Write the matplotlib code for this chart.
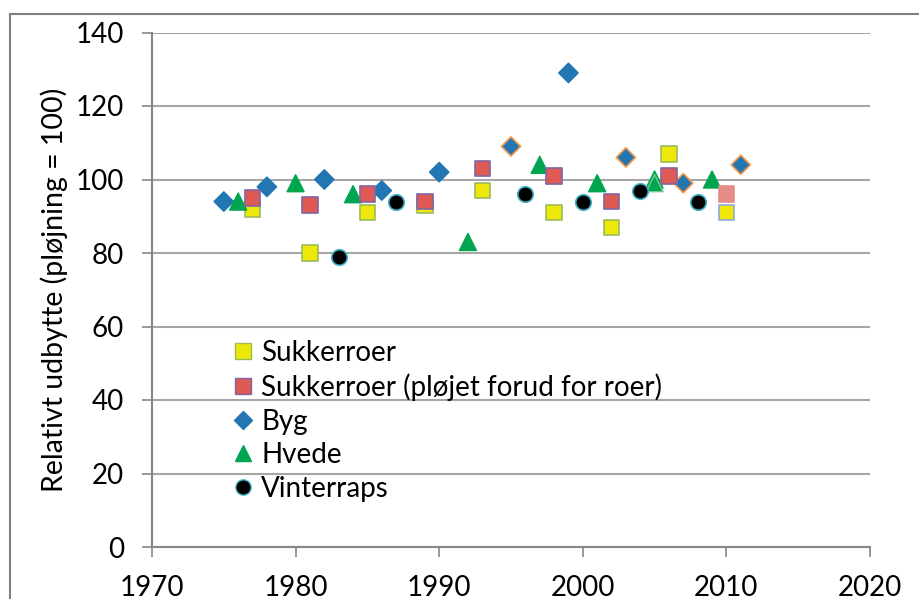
import matplotlib
matplotlib.use("Agg")
import matplotlib.pyplot as plt
from matplotlib.lines import Line2D

plt.rcParams['font.family'] = ['Lato', 'DejaVu Sans']

# ---- data ----
sukker_years = [1977, 1981, 1985, 1989, 1993, 1998, 2002, 2006, 2010]
sukker_vals = [92, 80, 91, 93, 97, 91, 87, 107, 91]

sukker_pl_years = [1977, 1981, 1985, 1989, 1993, 1998, 2002, 2006, 2010]
sukker_pl_vals = [95, 93, 96, 94, 103, 101, 94, 101, 96]

byg_years = [1975, 1978, 1982, 1986, 1990, 1995, 1999, 2003, 2007, 2011]
byg_vals = [94, 98, 100, 97, 102, 109, 129, 106, 99, 104]

hvede_years = [1976, 1980, 1984, 1992, 1997, 2001, 2005, 2005, 2009]
hvede_vals = [94, 99, 96, 83, 104, 99, 100, 99, 100]

raps_years = [1983, 1987, 1996, 2000, 2004, 2008]
raps_vals = [79, 94, 96, 94, 97, 94]

labels = ["Sukkerroer", "Sukkerroer (pløjet forud for roer)", "Byg", "Hvede", "Vinterraps"]
x_ticks = [1970, 1980, 1990, 2000, 2010, 2020]
y_ticks = [0, 20, 40, 60, 80, 100, 120, 140]

# ---- styles ----
c_yellow = "#EEE80A"
c_red = "#E05A55"
c_blue = "#2277B3"
c_green = "#00A54F"
c_black = "#000000"
e_yellow = ["#9BBB59"] * 8 + ["#8EA9D8"]
f_red = [c_red] * 8 + ["#E58C89"]
e_red = ["#8064A2"] * 8 + ["#E58C89"]
e_blue = [c_blue] * 5 + ["#F79646", c_blue, "#F79646", "#F79646", "#F79646"]
e_green = [c_green] * 7 + ["#7CC98F", c_green]
e_black = "#3FB3C8"

fig = plt.figure(figsize=(9.2, 5.99), dpi=100)
ax = fig.add_axes([152 / 920, 1 - 547 / 599, (870 - 152) / 920, (547 - 32.5) / 599])

ax.scatter(sukker_years, sukker_vals, marker="s", s=125, c=c_yellow, edgecolors=e_yellow, linewidths=1.2, zorder=3)
ax.scatter(sukker_pl_years, sukker_pl_vals, marker="s", s=125, c=f_red, edgecolors=e_red, linewidths=1.2, zorder=4)
ax.scatter(byg_years, byg_vals, marker="D", s=95, c=c_blue, edgecolors=e_blue, linewidths=1.2, zorder=3)
ax.scatter(hvede_years, hvede_vals, marker="^", s=150, c=c_green, edgecolors=e_green, linewidths=1.0, zorder=3)
ax.scatter(raps_years, raps_vals, marker="o", s=125, c=c_black, edgecolors=e_black, linewidths=1.2, zorder=3)

ax.set_xlim(1970, 2020)
ax.set_ylim(0, 140)
ax.set_xticks(x_ticks)
ax.set_yticks(y_ticks)
ax.grid(axis="y", color="#A6A6A6", linewidth=1.5, zorder=0)
ax.set_axisbelow(True)
for s in ["top", "right"]:
    ax.spines[s].set_visible(False)
for s in ["left", "bottom"]:
    ax.spines[s].set_color("#868686")
    ax.spines[s].set_linewidth(1.5)
ax.tick_params(axis="both", direction="out", length=7, width=1.2, color="#868686",
               labelsize=20, labelcolor="black")
ax.tick_params(axis="y", pad=13)
ax.tick_params(axis="x", pad=13)
ax.set_ylabel("Relativt udbytte (pløjning = 100)", fontsize=20.5, labelpad=6)

handles = [
    Line2D([], [], marker="s", ls="", markersize=11, markerfacecolor=c_yellow, markeredgecolor="#9BBB59"),
    Line2D([], [], marker="s", ls="", markersize=11, markerfacecolor=c_red, markeredgecolor="#8064A2"),
    Line2D([], [], marker="D", ls="", markersize=9.5, markerfacecolor=c_blue, markeredgecolor=c_blue),
    Line2D([], [], marker="^", ls="", markersize=12, markerfacecolor=c_green, markeredgecolor=c_green),
    Line2D([], [], marker="o", ls="", markersize=11, markerfacecolor=c_black, markeredgecolor=e_black),
]
ax.legend(handles, labels, loc="upper left", bbox_to_anchor=(232 / 920, 1 - 340 / 599),
          bbox_transform=fig.transFigure, frameon=False, fontsize=20,
          handletextpad=0.25, handlelength=0.8, labelspacing=0.27, borderpad=0, borderaxespad=0)

# outer chart frame
fig.add_artist(Line2D([10 / 920, 10 / 920], [0, 1 - 14 / 599], transform=fig.transFigure, color="#7F7F7F", lw=1.5))
fig.add_artist(Line2D([10 / 920, 1], [1 - 14 / 599, 1 - 14 / 599], transform=fig.transFigure, color="#7F7F7F", lw=1.5))

fig.savefig("out.png", dpi=100)
